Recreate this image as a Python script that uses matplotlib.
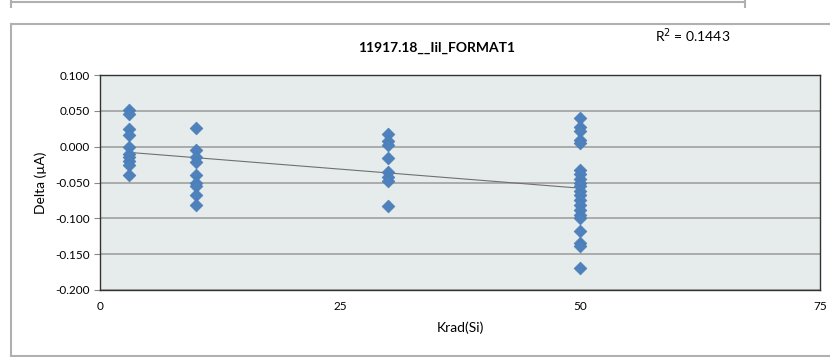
import numpy as np
import matplotlib.pyplot as plt
from matplotlib.lines import Line2D

# dose levels (Krad(Si)) and measured delta values (uA)
krad_3 = [0.051, 0.045, 0.025, 0.016, 0.000, -0.010, -0.015, -0.020, -0.025, -0.040]
krad_10 = [0.026, -0.005, -0.015, -0.022, -0.040, -0.050, -0.055, -0.068, -0.082]
krad_30 = [0.017, 0.008, 0.002, -0.016, -0.035, -0.043, -0.048, -0.083]
krad_50 = [0.040, 0.028, 0.022, 0.010, 0.005, -0.032, -0.038, -0.045, -0.050,
           -0.055, -0.062, -0.068, -0.075, -0.082, -0.088, -0.095, -0.100,
           -0.118, -0.135, -0.138, -0.169]
doses = [3, 10, 30, 50]
title = "11917.18__Iil_FORMAT1"
r2_label = "R$^2$ = 0.1443"

plt.rcParams['font.family'] = ['Lato', 'DejaVu Sans']

xs = []
ys = []
for d, vals in zip(doses, [krad_3, krad_10, krad_30, krad_50]):
    xs += [d] * len(vals)
    ys += vals
xs = np.array(xs, dtype=float)
ys = np.array(ys)

fig = plt.figure(figsize=(8.3, 3.57), dpi=100)
ax = fig.add_axes([100 / 830, 1 - 290 / 357, 720 / 830, 215 / 357])
ax.set_facecolor('#E6ECEC')

ax.set_xlim(0, 75)
ax.set_ylim(-0.2, 0.1)
ax.set_xticks([0, 25, 50, 75])
yt = np.round(np.arange(-0.2, 0.101, 0.05), 3)
ax.set_yticks(yt)
ax.set_yticklabels(['%.3f' % (v + 0.0) for v in yt])
ax.yaxis.grid(True, color='#A0A0A0', linewidth=1.2)
ax.set_axisbelow(True)
for s in ax.spines.values():
    s.set_color('#333333')
    s.set_linewidth(1)
ax.tick_params(axis='y', labelsize=8.5, length=4, direction='out', color='#888888')
ax.tick_params(axis='x', labelsize=8.5, length=0, pad=8)

# linear trend line
m, b = np.polyfit(xs, ys, 1)
tx = np.array([xs.min(), xs.max()])
ax.plot(tx, m * tx + b, color='#707070', linewidth=0.8, zorder=2)

ax.scatter(xs, ys, marker='D', s=42, color='#4F81BD', edgecolors='#4A7CB8',
           linewidths=0.5, zorder=3)

ax.set_xlabel("Krad(Si)", fontsize=10, labelpad=7)
ax.set_ylabel("Delta (\u00b5A)", fontsize=10, labelpad=6)
fig.text(437 / 830, 1 - 48 / 357, title, fontsize=10, fontweight='bold',
         ha='center', va='center')
fig.text(693 / 830, 1 - 36 / 357, r2_label, fontsize=10, ha='center', va='center')

# chart frames
gc = '#B0B0B0'
fig.add_artist(Line2D([11 / 830, 11 / 830], [1 - 24 / 357, 0], color=gc, lw=1.5))
fig.add_artist(Line2D([11 / 830, 1], [1 - 24 / 357, 1 - 24 / 357], color=gc, lw=1.5))
fig.add_artist(Line2D([11 / 830, 1], [1 - 356 / 357, 1 - 356 / 357], color=gc, lw=1.5))
fig.add_artist(Line2D([11 / 830, 745 / 830], [1 - 1.5 / 357, 1 - 1.5 / 357], color=gc, lw=1.5))
fig.add_artist(Line2D([11 / 830, 11 / 830], [1, 1 - 7 / 357], color=gc, lw=1.5))
fig.add_artist(Line2D([745 / 830, 745 / 830], [1, 1 - 7 / 357], color=gc, lw=1.5))

fig.savefig('out.png', dpi=100)
